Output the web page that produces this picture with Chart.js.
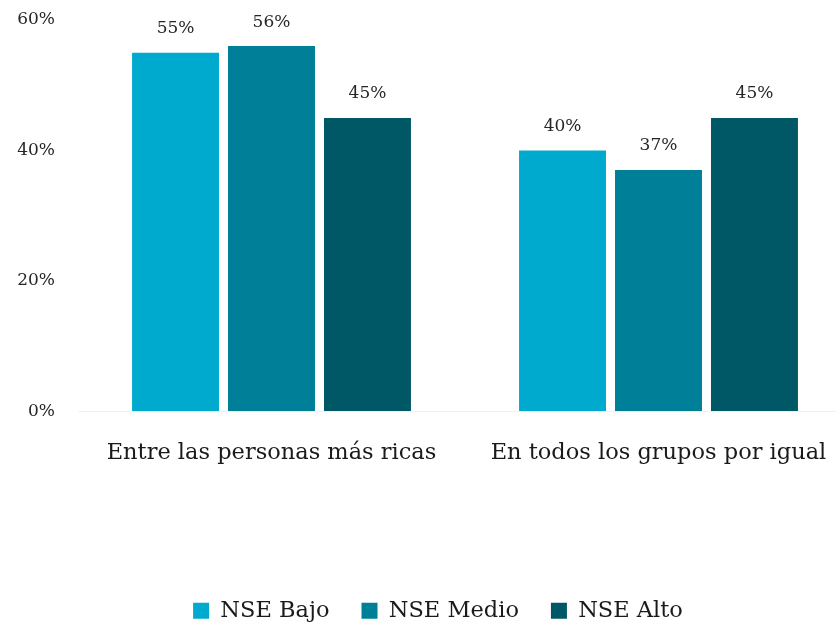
<!DOCTYPE html>
<html>
<head>
<meta charset="utf-8">
<script src="https://cdn.jsdelivr.net/npm/chart.js@4"></script>
<style>
  html, body { margin: 0; padding: 0; background: #fff; overflow: hidden; }
  #wrap { width: 852px; height: 632px; }
</style>
</head>
<body>
<div id="wrap"><canvas id="myChart"></canvas></div>
<script>
// values (percent)
const categories = ['Entre las personas más ricas', 'En todos los grupos por igual'];
const nseBajo = [55, 40];
const nseMedio = [56, 37];
const nseAlto = [45, 45];
const yTicks = [0, 20, 40, 60];

const fontFamily = "'DejaVu Serif', serif";

// simple value labels over the bars
const barLabels = {
  id: 'barLabels',
  afterDatasetsDraw(chart) {
    const ctx = chart.ctx;
    ctx.save();
    ctx.font = '17px ' + fontFamily;
    ctx.fillStyle = '#262626';
    ctx.textAlign = 'center';
    ctx.textBaseline = 'middle';
    chart.data.datasets.forEach((ds, i) => {
      chart.getDatasetMeta(i).data.forEach((bar, j) => {
        ctx.fillText(ds.data[j] + '%', bar.x, bar.y - 24);
      });
    });
    ctx.restore();
  }
};

// legend in the original sits a bit right of the canvas centre
const legendShift = {
  id: 'legendShift',
  afterLayout(chart) {
    chart.legend.left += 12;
    chart.legend.right += 12;
  }
};

new Chart('myChart', {
  type: 'bar',
  data: {
    labels: categories,
    datasets: [
      { label: 'NSE Bajo', data: nseBajo, backgroundColor: '#00AACE' },
      { label: 'NSE Medio', data: nseMedio, backgroundColor: '#007F99' },
      { label: 'NSE Alto', data: nseAlto, backgroundColor: '#005766' }
    ]
  },
  options: {
    responsive: true,
    maintainAspectRatio: false,
    animation: false,
    layout: { padding: { top: 20, left: 0, right: 0, bottom: 0 } },
    datasets: {
      bar: { categoryPercentage: 0.744, barPercentage: 0.906 }
    },
    scales: {
      x: {
        grid: { display: false },
        border: { display: false },
        ticks: {
          color: '#1a1a1a',
          padding: 20,
          maxRotation: 0,
          font: { family: fontFamily, size: 22.5 }
        },
        afterFit(scale) { scale.height = 156; }
      },
      y: {
        min: 0,
        max: 60,
        border: { display: false },
        grid: {
          drawTicks: false,
          color: ctx => ctx.tick && ctx.tick.value === 0 ? '#f0f0f0' : 'rgba(0,0,0,0)'
        },
        afterBuildTicks(scale) { scale.ticks = yTicks.map(v => ({ value: v })); },
        ticks: {
          color: '#262626',
          padding: 23,
          font: { family: fontFamily, size: 17 },
          callback: v => v + '%'
        },
        afterFit(scale) {
          scale.width = 78;
          scale.paddingTop = 0;
          scale.paddingBottom = 0;
        }
      }
    },
    plugins: {
      legend: {
        position: 'bottom',
        labels: {
          boxWidth: 16,
          boxHeight: 16,
          padding: 32,
          color: '#1a1a1a',
          font: { family: fontFamily, size: 22.5 }
        }
      },
      tooltip: { enabled: false }
    }
  },
  plugins: [barLabels, legendShift]
});
</script>
</body>
</html>
